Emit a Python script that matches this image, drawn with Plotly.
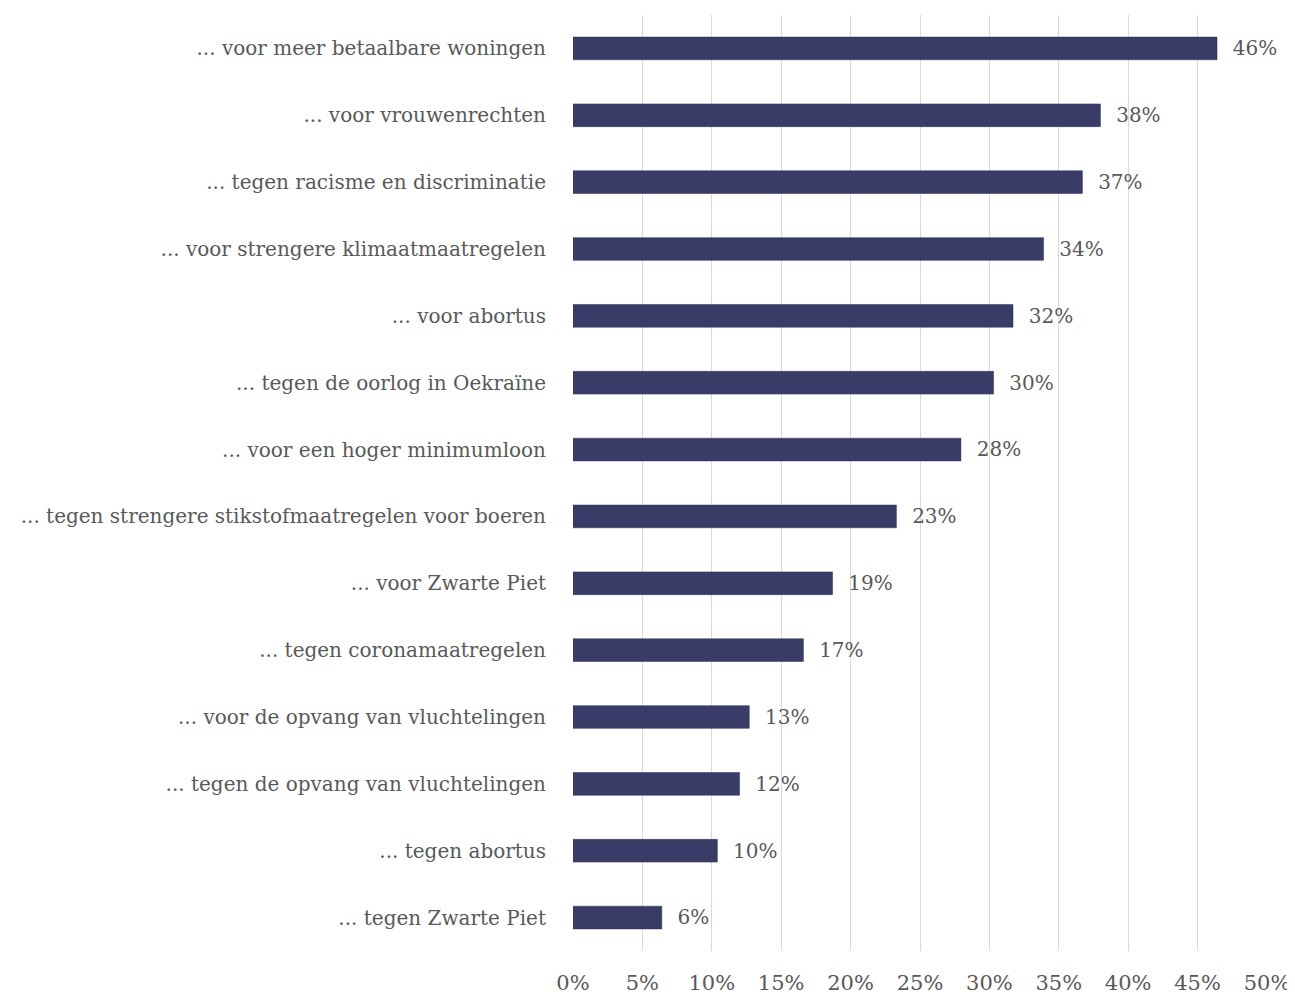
import plotly.graph_objects as go

categories = [
    "... voor meer betaalbare woningen",
    "... voor vrouwenrechten",
    "... tegen racisme en discriminatie",
    "... voor strengere klimaatmaatregelen",
    "... voor abortus",
    "... tegen de oorlog in Oekraïne",
    "... voor een hoger minimumloon",
    "... tegen strengere stikstofmaatregelen voor boeren",
    "... voor Zwarte Piet",
    "... tegen coronamaatregelen",
    "... voor de opvang van vluchtelingen",
    "... tegen de opvang van vluchtelingen",
    "... tegen abortus",
    "... tegen Zwarte Piet",
]
values = [46.4, 38.0, 36.7, 33.9, 31.7, 30.3, 27.95, 23.3, 18.7, 16.6, 12.7, 12.0, 10.4, 6.4]
value_labels = ["46%", "38%", "37%", "34%", "32%", "30%", "28%", "23%", "19%", "17%", "13%", "12%", "10%", "6%"]
tick_vals = [0, 5, 10, 15, 20, 25, 30, 35, 40, 45, 50]
tick_text = ["0%", "5%", "10%", "15%", "20%", "25%", "30%", "35%", "40%", "45%", "50%"]

FONT = "DejaVu Serif"
TXT = "#595959"

fig = go.Figure(go.Bar(
    y=categories, x=values, orientation="h",
    marker=dict(color="#383C66", line=dict(color="#2c3056", width=0.5)),
    text=["  " + t for t in value_labels], textposition="outside",
    textfont=dict(family=FONT, size=22, color=TXT),
    cliponaxis=False,
))

# page body has an 8px default margin; compensate so the plot area lands where the reference has it
fig.update_layout(
    width=1287, height=988,
    margin=dict(l=565, r=28, t=7, b=45, autoexpand=False),
    plot_bgcolor="white", paper_bgcolor="white",
    bargap=0.66,
    showlegend=False,
    font=dict(family=FONT, color=TXT),
)
fig.update_xaxes(
    range=[0, 50], tickvals=tick_vals, ticktext=tick_text,
    showgrid=True, gridcolor="#D9D9D9", gridwidth=1.2,
    zeroline=False, showline=False, automargin=False,
    tickfont=dict(family=FONT, size=21, color=TXT),
    ticklabelstandoff=17,
)
fig.update_yaxes(
    autorange="reversed", showgrid=False, showline=False, automargin=False,
    tickfont=dict(family=FONT, size=20, color=TXT),
    ticklabelstandoff=26,
)

fig.write_html("out.html")
